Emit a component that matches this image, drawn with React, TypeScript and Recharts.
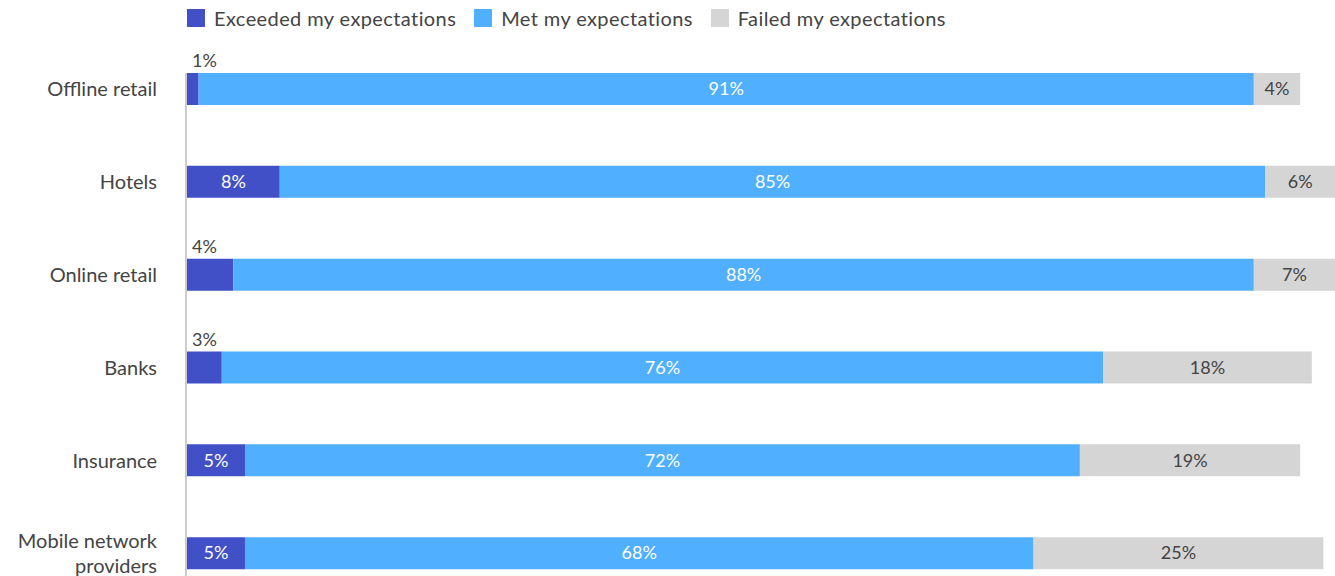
import { BarChart, Bar, XAxis, YAxis, Legend, LabelList, ReferenceLine } from 'recharts';

const categories = ['Offline retail', 'Hotels', 'Online retail', 'Banks', 'Insurance', 'Mobile network providers'];
const exceeded = [1, 8, 4, 3, 5, 5];
const met = [91, 85, 88, 76, 72, 68];
const failed = [4, 6, 7, 18, 19, 25];

const seriesNames = ['Exceeded my expectations', 'Met my expectations', 'Failed my expectations'];
const colors = ['#4150c6', '#50b0ff', '#d5d5d5'];

const FONT = 'Lato, "Open Sans", sans-serif';
const TEXT = '#444444';

const data = categories.map((c, i) => ({
  name: c,
  exceeded: exceeded[i],
  met: met[i],
  failed: failed[i],
}));

// greedy word wrap on character count
const wrap = (s: string, max: number) => {
  const lines: string[] = [];
  let cur = '';
  s.split(' ').forEach((w) => {
    const next = cur ? cur + ' ' + w : w;
    if (next.length > max && cur) {
      lines.push(cur);
      cur = w;
    } else {
      cur = next;
    }
  });
  if (cur) lines.push(cur);
  return lines;
};

const CategoryTick = (props: any) => {
  const { x, y, payload } = props;
  const lines = wrap(payload.value, 16);
  const lh = 25;
  const start = -((lines.length - 1) * lh) / 2;
  return (
    <text x={x} y={y} textAnchor="end" fill={TEXT} fontSize={20} fontFamily={FONT}>
      {lines.map((l, i) => (
        <tspan key={i} x={x} dy={i === 0 ? start + 7 : lh}>
          {l}
        </tspan>
      ))}
    </text>
  );
};

// small values go above the bar, the rest inside
const exceededLabel = (props: any) => {
  const { x, y, width, height, value } = props;
  if (value < 5) {
    return (
      <text x={x + 5} y={y - 6} fill={TEXT} fontSize={18} fontFamily={FONT} textAnchor="start">
        {value}%
      </text>
    );
  }
  return (
    <text x={x + width / 2} y={y + height / 2} dy="0.35em" fill="#ffffff" fontSize={18} fontFamily={FONT} textAnchor="middle">
      {value}%
    </text>
  );
};

const centerLabel = (fill: string) => (props: any) => {
  const { x, y, width, height, value } = props;
  return (
    <text x={x + width / 2} y={y + height / 2} dy="0.35em" fill={fill} fontSize={18} fontFamily={FONT} textAnchor="middle">
      {value}%
    </text>
  );
};

const renderLegend = () => (
  <div style={{ display: 'flex', alignItems: 'center', paddingLeft: 187, height: 22, fontFamily: FONT }}>
    {seriesNames.map((n, i) => (
      <div key={n} style={{ display: 'flex', alignItems: 'center', marginRight: 18 }}>
        <span style={{ width: 18, height: 18, background: colors[i], display: 'inline-block', marginRight: 9 }} />
        <span style={{ fontSize: 20, color: TEXT, letterSpacing: 0.4 }}>{n}</span>
      </div>
    ))}
  </div>
);

// axis line drawn from the first bar down
const AxisLine = (props: any) => {
  const { x1, y1, x2, y2 } = props;
  const top = Math.min(y1, y2);
  const bottom = Math.max(y1, y2);
  return <line x1={x1 - 1} y1={top + 30} x2={x2 - 1} y2={bottom} stroke="#cccccc" strokeWidth={2} />;
};

export default function App() {
  return (
    <div style={{ width: 1335, height: 576, overflow: 'hidden', position: 'relative', background: '#fff' }}>
      <style>{`body{margin:0}`}</style>
      <BarChart
        width={1335}
        height={600}
        data={data}
        layout="vertical"
        margin={{ top: 7, right: 0, bottom: 0, left: 0 }}
      >
        <Legend verticalAlign="top" align="left" height={36} content={renderLegend} />
        <XAxis type="number" domain={[0, 99]} hide allowDataOverflow />
        <YAxis
          type="category"
          dataKey="name"
          width={187}
          tickLine={false}
          tickMargin={24}
          axisLine={false}
          tick={<CategoryTick />}
          interval={0}
        />
        <ReferenceLine x={0} shape={(p: any) => <AxisLine {...p} />} />
        <Bar dataKey="exceeded" name={seriesNames[0]} stackId="a" fill={colors[0]} barSize={32} isAnimationActive={false}>
          <LabelList dataKey="exceeded" content={exceededLabel} />
        </Bar>
        <Bar dataKey="met" name={seriesNames[1]} stackId="a" fill={colors[1]} barSize={32} isAnimationActive={false}>
          <LabelList dataKey="met" content={centerLabel('#ffffff')} />
        </Bar>
        <Bar dataKey="failed" name={seriesNames[2]} stackId="a" fill={colors[2]} barSize={32} isAnimationActive={false}>
          <LabelList dataKey="failed" content={centerLabel(TEXT)} />
        </Bar>
      </BarChart>
    </div>
  );
}
